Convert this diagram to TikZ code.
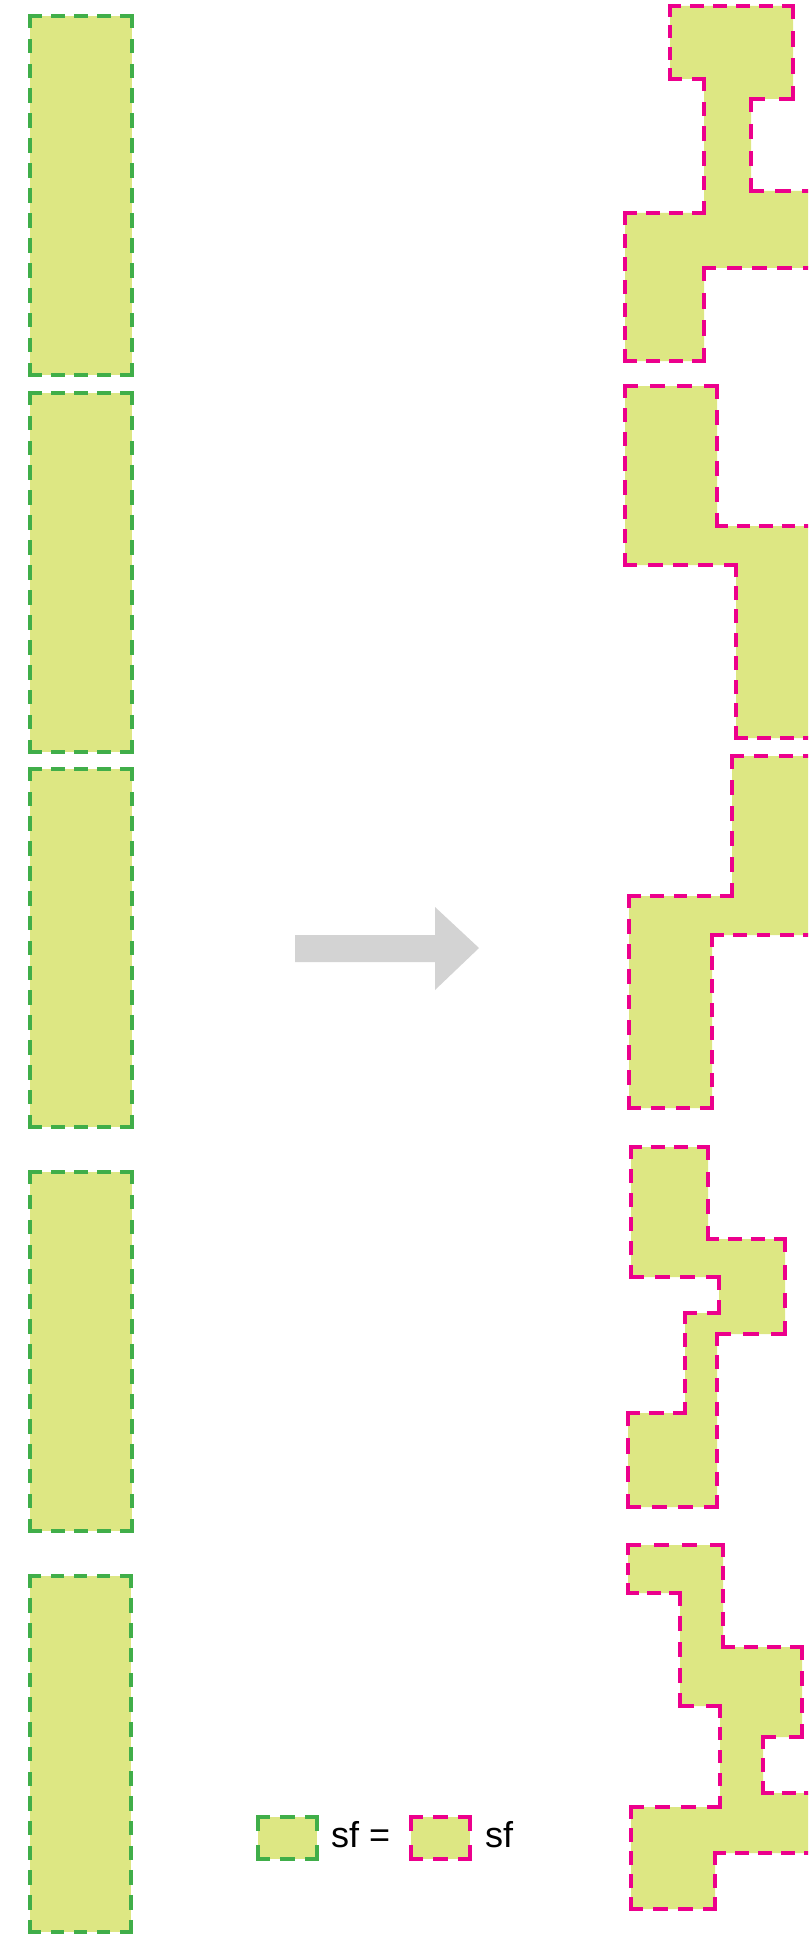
\documentclass[tikz,border=0pt]{standalone}
\usepackage{fontspec}
\setmainfont{Liberation Sans}
\definecolor{sfill}{HTML}{DDE783}
\definecolor{sgreen}{HTML}{40AE49}
\definecolor{spink}{HTML}{EC008C}
\definecolor{sgray}{HTML}{D3D3D3}
\newcommand\dseg[5]{%
 \pgfmathsetmacro\segL{veclen(#4-#2,#5-#3)}%
 \pgfmathsetmacro\segN{max(1,round((\segL-10)/25)+1)}%
 \pgfmathsetmacro\segS{\segL/((\segN-1)*25+10)}%
 \pgfmathsetmacro\segD{10*\segS}%
 \pgfmathsetmacro\segG{15*\segS}%
 \draw[#1,line width=4.6pt,line cap=rect,dash pattern=on \segD pt off \segG pt] (#2,#3) -- (#4,#5);%
}
\newcommand\dpoly[4]{%
 \fill[sfill] (#2,#3) \foreach \a/\b in {#4} { -- (\a,\b) } -- cycle;
 \foreach \a/\b [remember=\a as \pa (initially #2), remember=\b as \pb (initially #3)] in {#4,#2/#3} { \dseg{#1}{\pa}{\pb}{\a}{\b} }
}
\tikzset{legtext/.style={anchor=base west,inner sep=0pt,font=\fontsize{36}{40}\selectfont}}
\begin{document}
\begin{tikzpicture}[x=1pt,y=-1pt]
\useasboundingbox (0,0) rectangle (808,1934);
\clip (0,0) rectangle (808,1934);
% left column of rectangles
\dpoly{sgreen}{30}{16}{132/16,132/375,30/375}
\dpoly{sgreen}{30}{393}{132/393,132/752,30/752}
\dpoly{sgreen}{30}{769}{132/769,132/1127,30/1127}
\dpoly{sgreen}{30}{1172}{132/1172,132/1531,30/1531}
\dpoly{sgreen}{30}{1576}{131/1576,131/1932,30/1932}
% arrow
\fill[sgray] (295,935) -- (435,935) -- (435,907) -- (479,948) -- (435,990) -- (435,962) -- (295,962) -- cycle;
% right shapes
\dpoly{spink}{670}{6}{793/6,793/99,751/99,751/191,815/191,815/268,704/268,704/361,625/361,625/213,704/213,704/79,670/79}
\dpoly{spink}{625}{386}{717/386,717/526,815/526,815/738,736/738,736/565,625/565}
\dpoly{spink}{732}{756}{815/756,815/935,712/935,712/1108,629/1108,629/896,732/896}
\dpoly{spink}{631}{1147}{708/1147,708/1239,785/1239,785/1334,717/1334,717/1507,628/1507,628/1413,685/1413,685/1313,719/1313,719/1277,631/1277}
\dpoly{spink}{628}{1545}{723/1545,723/1647,802/1647,802/1737,763/1737,763/1793,815/1793,815/1853,715/1853,715/1909,631/1909,631/1807,720/1807,720/1706,680/1706,680/1593,628/1593}
% legend
\dpoly{sgreen}{258}{1817}{317/1817,317/1859,258/1859}
\dpoly{spink}{411}{1817}{470/1817,470/1859,411/1859}
\node[legtext] (leg1) at (331,1847) {sf =};
\node[legtext] (leg2) at (485,1847) {sf};
\end{tikzpicture}
\end{document}
